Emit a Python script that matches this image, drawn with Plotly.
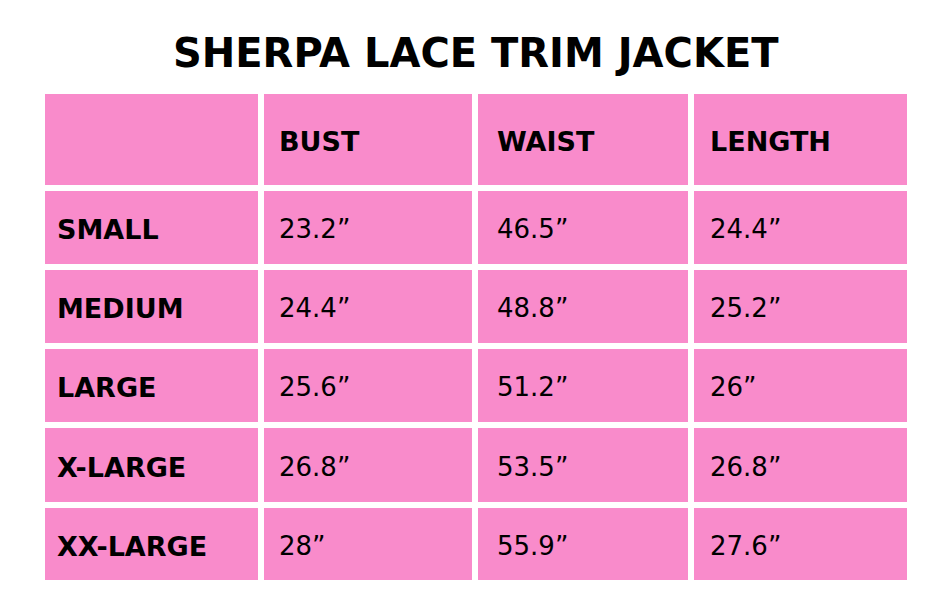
import plotly.graph_objects as go

title = "SHERPA LACE TRIM JACKET"
headers = ["", "BUST", "WAIST", "LENGTH"]
sizes = ["SMALL", "MEDIUM", "LARGE", "X-LARGE", "XX-LARGE"]
bust = ["23.2”", "24.4”", "25.6”", "26.8”", "28”"]
waist = ["46.5”", "48.8”", "51.2”", "53.5”", "55.9”"]
length = ["24.4”", "25.2”", "26”", "26.8”", "27.6”"]

W, H = 936, 594
pink = "#f98bcb"
col_edges = [(37, 250), (256, 464), (470, 680), (686, 899)]
row_edges = [(86, 177), (183, 256), (262, 335), (341, 414), (420, 494), (500, 572)]
pad = [10, 13, 17, 14]

rows = [headers] + [[s, b, w, l] for s, b, w, l in zip(sizes, bust, waist, length)]

fig = go.Figure()
shapes, annots = [], []
for r, (y0, y1) in enumerate(row_edges):
    for c, (x0, x1) in enumerate(col_edges):
        shapes.append(dict(type="rect", xref="paper", yref="paper",
                           x0=x0/W, x1=x1/W, y0=1-y1/H, y1=1-y0/H,
                           fillcolor=pink, line=dict(width=0), layer="below"))
        txt = rows[r][c]
        if not txt:
            continue
        bold = r == 0 or c == 0
        annots.append(dict(xref="paper", yref="paper", x=(x0+pad[c])/W,
                           y=1-((y0+y1)/2+2)/H, xanchor="left", yanchor="middle",
                           showarrow=False,
                           text=f"<b>{txt}</b>" if bold else txt,
                           font=dict(family="DejaVu Sans", size=27 if bold else 26,
                                     color="black")))
annots.append(dict(xref="paper", yref="paper", x=0.5, y=1-45/H, xanchor="center",
                   yanchor="middle", showarrow=False, text=f"<b>{title}</b>",
                   font=dict(family="DejaVu Sans", size=40, color="black")))
fig.update_layout(width=W, height=H, margin=dict(l=0, r=0, t=0, b=0),
                  paper_bgcolor="white", plot_bgcolor="white",
                  xaxis=dict(visible=False), yaxis=dict(visible=False),
                  shapes=shapes, annotations=annots)
fig.write_html("out.html")
